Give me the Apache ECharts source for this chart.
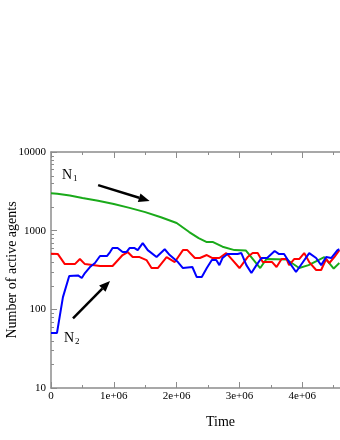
<!DOCTYPE html>
<html>
<head>
<meta charset="utf-8">
<script src="https://cdn.jsdelivr.net/npm/echarts@6/dist/echarts.min.js"></script>
<style>
html, body { margin: 0; padding: 0; background: #fff; }
#chart { width: 340px; height: 440px; }
</style>
</head>
<body>
<div id="chart"></div>
<script>
// N1 (green)
const n1Time = [0, 0.1e6, 0.3e6, 0.5e6, 0.75e6, 1.0e6, 1.25e6, 1.5e6, 1.75e6, 2.0e6, 2.2e6, 2.35e6, 2.48e6, 2.58e6, 2.73e6, 2.92e6, 3.1e6, 3.33e6, 3.43e6, 3.75e6, 3.95e6, 4.1e6, 4.35e6, 4.5e6, 4.59e6]
const n1Values = [3000, 2950, 2800, 2600, 2400, 2180, 1950, 1720, 1480, 1250, 960, 805, 716, 716, 625, 566, 560, 335, 436, 430, 335, 365, 462, 330, 388]

// N2 (blue)
const n2Time = [0, 0.095e6, 0.19e6, 0.29e6, 0.43e6, 0.49e6, 0.54e6, 0.62e6, 0.7e6, 0.78e6, 0.89e6, 0.94e6, 0.98e6, 1.06e6, 1.14e6, 1.2e6, 1.25e6, 1.33e6, 1.38e6, 1.46e6, 1.54e6, 1.68e6, 1.81e6, 1.89e6, 2.02e6, 2.1e6, 2.25e6, 2.32e6, 2.4e6, 2.48e6, 2.56e6, 2.63e6, 2.68e6, 2.73e6, 2.81e6, 2.97e6, 3.03e6, 3.11e6, 3.19e6, 3.27e6, 3.35e6, 3.44e6, 3.56e6, 3.63e6, 3.71e6, 3.79e6, 3.9e6, 4.0e6, 4.11e6, 4.22e6, 4.3e6, 4.38e6, 4.46e6, 4.56e6, 4.59e6]
const n2Values = [50, 50, 143, 265, 270, 250, 289, 345, 388, 476, 476, 535, 601, 601, 535, 535, 601, 601, 566, 695, 566, 462, 580, 490, 399, 335, 345, 257, 257, 335, 423, 423, 365, 449, 504, 504, 519, 365, 289, 365, 449, 449, 551, 504, 504, 399, 298, 388, 519, 449, 365, 462, 449, 566, 580]

// third population (red)
const n3Time = [0, 0.11e6, 0.22e6, 0.38e6, 0.46e6, 0.54e6, 0.78e6, 0.98e6, 1.14e6, 1.22e6, 1.3e6, 1.41e6, 1.52e6, 1.6e6, 1.7e6, 1.84e6, 1.97e6, 2.1e6, 2.17e6, 2.29e6, 2.37e6, 2.48e6, 2.57e6, 2.68e6, 2.79e6, 2.89e6, 3.0e6, 3.13e6, 3.21e6, 3.29e6, 3.37e6, 3.52e6, 3.59e6, 3.67e6, 3.75e6, 3.79e6, 3.87e6, 3.95e6, 4.03e6, 4.11e6, 4.22e6, 4.3e6, 4.38e6, 4.43e6, 4.51e6, 4.59e6]
const n3Values = [510, 504, 376, 376, 436, 376, 355, 355, 490, 535, 462, 462, 423, 335, 335, 462, 399, 566, 566, 449, 449, 490, 449, 449, 519, 423, 335, 462, 519, 519, 399, 399, 345, 436, 436, 365, 436, 436, 519, 399, 316, 316, 436, 388, 462, 566]

const yMinorTicks = [20, 30, 40, 50, 60, 70, 80, 90, 200, 300, 400, 500, 600, 700, 800, 900, 2000, 3000, 4000, 5000, 6000, 7000, 8000, 9000]

const serif = '"Liberation Serif", "DejaVu Serif", serif'
const axisGray = '#8c8c8c'

const zip = (t, v) => t.map((x, i) => [x, v[i]])

const initChart = () => {
    const myChart = echarts.init(document.getElementById('chart'))
    const lineSeries = (data, color) => ({
        type: 'line',
        data: data,
        showSymbol: false,
        silent: true,
        animation: false,
        lineStyle: { color: color, width: 2 }
    })
    const option = {
        animation: false,
        grid: { left: 51, top: 152, right: 0, bottom: 52, containLabel: false, outerBoundsMode: 'none' },
        xAxis: [
            {
                type: 'value',
                min: 0,
                max: 4.6e6,
                interval: 1e6,
                axisLine: { lineStyle: { color: axisGray, width: 1.5 } },
                axisTick: { inside: true, length: 6, lineStyle: { color: axisGray } },
                minorTick: { show: true, splitNumber: 2, length: 3, lineStyle: { color: axisGray } },
                splitLine: { show: false },
                axisLabel: {
                    color: '#000',
                    fontFamily: serif,
                    fontSize: 11,
                    margin: 3,
                    showMaxLabel: false,
                    formatter: v => v === 0 ? '0' : (v / 1e6) + 'e+06'
                }
            },
            {
                type: 'value',
                position: 'top',
                min: 0,
                max: 4.6e6,
                interval: 1e6,
                axisLine: { lineStyle: { color: axisGray, width: 1.5 } },
                axisTick: { inside: true, length: 6, lineStyle: { color: axisGray } },
                minorTick: { show: true, splitNumber: 2, length: 3, lineStyle: { color: axisGray } },
                splitLine: { show: false },
                axisLabel: { show: false }
            }
        ],
        yAxis: {
            type: 'log',
            min: 10,
            max: 10000,
            name: 'Number of active agents',
            nameLocation: 'middle',
            nameGap: 32,
            nameMoveOverlap: false,
            nameTextStyle: { color: '#000', fontFamily: serif, fontSize: 14 },
            axisLine: { lineStyle: { color: axisGray, width: 1.5 } },
            axisTick: { inside: true, length: 6, lineStyle: { color: axisGray } },
            splitLine: { show: false },
            axisLabel: { color: '#000', fontFamily: serif, fontSize: 11, margin: 5, formatter: v => String(v) }
        },
        series: [
            lineSeries(zip(n1Time, n1Values), '#1aaa1a'),
            lineSeries(zip(n3Time, n3Values), '#ff0000'),
            lineSeries(zip(n2Time, n2Values), '#0000ff')
        ]
    }
    myChart.setOption(option)

    // log minor ticks on the left axis
    const left = myChart.convertToPixel({ xAxisIndex: 0 }, 0)
    const graphics = yMinorTicks.map(v => {
        const y = Math.round(myChart.convertToPixel({ yAxisIndex: 0 }, v)) + 0.5
        return {
            type: 'line',
            shape: { x1: left, y1: y, x2: left + 3, y2: y },
            style: { stroke: axisGray, lineWidth: 1 }
        }
    })

    // arrows for the annotations
    const arrow = (from, to) => {
        const p1 = myChart.convertToPixel({ gridIndex: 0 }, from)
        const p2 = myChart.convertToPixel({ gridIndex: 0 }, to)
        const ang = Math.atan2(p2[1] - p1[1], p2[0] - p1[0])
        const len = 11, half = 4.5
        const bx = p2[0] - len * Math.cos(ang), by = p2[1] - len * Math.sin(ang)
        const nx = -Math.sin(ang) * half, ny = Math.cos(ang) * half
        return [
            {
                type: 'line',
                shape: { x1: p1[0], y1: p1[1], x2: bx, y2: by },
                style: { stroke: '#000', lineWidth: 2.5 }
            },
            {
                type: 'polygon',
                shape: { points: [[p2[0], p2[1]], [bx + nx, by + ny], [bx - nx, by - ny]] },
                style: { fill: '#000' }
            }
        ]
    }
    graphics.push(...arrow([0.75e6, 3790], [1.57e6, 2380]))
    graphics.push(...arrow([0.35e6, 77], [0.94e6, 230]))

    const labelN = (x, y, idx) => ([
        { type: 'text', left: x, top: y, style: { text: 'N', fontFamily: serif, fontSize: 14, fill: '#000' } },
        { type: 'text', left: x + 11, top: y + 6, style: { text: idx, fontFamily: serif, fontSize: 9, fill: '#000' } }
    ])
    graphics.push(...labelN(62, 168, '1'))
    graphics.push(...labelN(64, 331, '2'))
    graphics.push({
        type: 'text', left: 206, top: 415,
        style: { text: 'Time', fontFamily: serif, fontSize: 14, fill: '#000' }
    })

    myChart.setOption({ graphic: graphics })
}
initChart()
</script>
</body>
</html>
